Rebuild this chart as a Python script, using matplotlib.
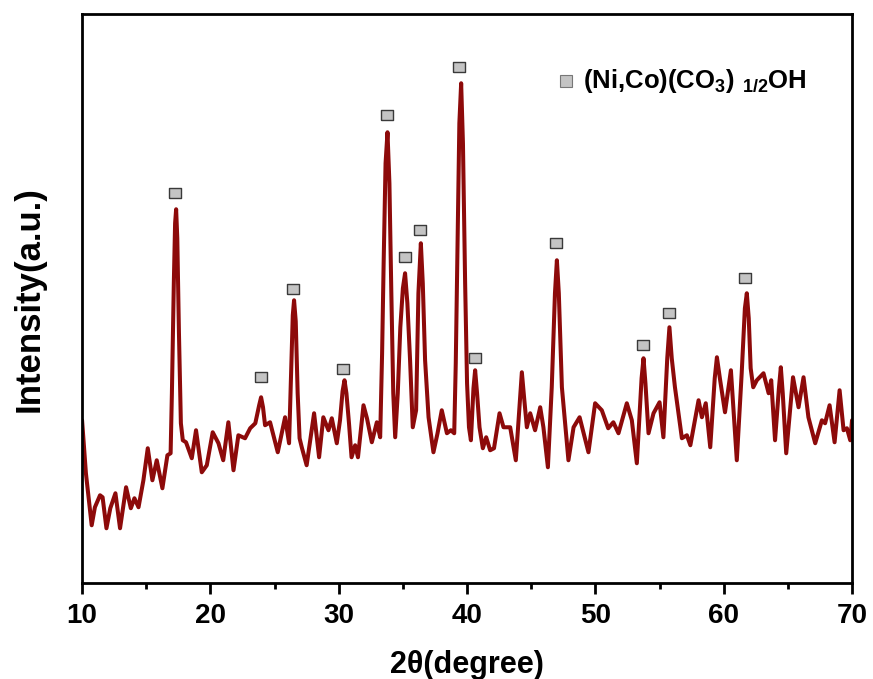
import numpy as np
import matplotlib
matplotlib.use("Agg")
import matplotlib.pyplot as plt

plt.rcParams['font.family'] = ['Liberation Sans', 'DejaVu Sans']
plt.rcParams['font.weight'] = 'bold'
plt.rcParams['mathtext.fontset'] = 'custom'
plt.rcParams['mathtext.rm'] = 'Liberation Sans:bold'
plt.rcParams['mathtext.it'] = 'Liberation Sans:bold'
plt.rcParams['mathtext.bf'] = 'Liberation Sans:bold'

# XRD pattern (2theta in degrees, intensity in a.u.)
two_theta = [10.0, 10.3, 10.75, 11.0, 11.4, 11.6, 11.9, 12.2, 12.6, 12.96,
             13.43, 13.8, 14.08, 14.4, 14.78, 15.12, 15.48, 15.82, 16.26, 16.65,
             16.9, 17.0, 17.15, 17.25, 17.33, 17.42, 17.55, 17.7, 17.85, 18.1,
             18.55, 18.88, 19.33, 19.72, 20.18, 20.63, 21.0, 21.4, 21.8, 22.18,
             22.7, 23.1, 23.5, 23.8, 23.95, 24.1, 24.26, 24.65, 25.25, 25.82,
             26.13, 26.3, 26.42, 26.52, 26.65, 26.8, 26.95, 27.12, 27.5, 28.08,
             28.47, 28.8, 29.2, 29.46, 29.85, 30.1, 30.3, 30.45, 30.6, 30.8,
             31.0, 31.28, 31.5, 31.93, 32.2, 32.58, 32.97, 33.23, 33.38, 33.5,
             33.65, 33.8, 33.95, 34.1, 34.25, 34.4, 34.6, 34.8, 35.0, 35.17,
             35.35, 35.56, 35.77, 36.03, 36.21, 36.4, 36.55, 36.73, 37.0, 37.38,
             37.7, 38.03, 38.43, 38.74, 39.0, 39.12, 39.25, 39.4, 39.54, 39.68,
             39.85, 40.0, 40.15, 40.3, 40.5, 40.63, 40.78, 40.97, 41.23, 41.49,
             41.8, 42.1, 42.53, 42.84, 43.36, 43.8, 44.1, 44.27, 44.45, 44.66,
             44.92, 45.3, 45.7, 45.95, 46.3, 46.6, 46.85, 47.0, 47.15, 47.39,
             47.9, 48.3, 48.77, 49.46, 49.98, 50.5, 51.0, 51.4, 51.8, 52.45,
             52.84, 53.23, 53.6, 53.75, 53.9, 54.14, 54.53, 55.0, 55.3, 55.6,
             55.77, 55.95, 56.2, 56.74, 57.13, 57.4, 58.04, 58.3, 58.6, 58.95,
             59.3, 59.47, 59.7, 60.1, 60.56, 61.02, 61.4, 61.65, 61.8, 61.95,
             62.1, 62.3, 62.58, 63.1, 63.5, 63.7, 64.0, 64.3, 64.45, 64.6,
             64.87, 65.4, 65.83, 66.22, 66.6, 67.13, 67.65, 67.9, 68.25, 68.64,
             69.03, 69.34, 69.6, 69.86, 70.0]
intensity = [163, 110, 58, 76, 88, 86, 55, 75, 90, 55,
             96, 75, 85, 76, 103, 135, 103, 123, 95, 128,
             130, 190, 300, 360, 374, 345, 250, 160, 143, 141,
             125, 153, 111, 118, 151, 140, 123, 161, 113, 148,
             145, 155, 160, 178, 186, 176, 158, 161, 131, 166,
             140, 215, 268, 283, 262, 190, 145, 136, 118, 170,
             126, 166, 153, 165, 140, 163, 192, 203, 190, 160,
             126, 138, 126, 178, 165, 141, 161, 146, 230, 320,
             420, 451, 400, 290, 190, 146, 190, 256, 295, 310,
             280, 223, 156, 173, 290, 340, 300, 223, 166, 131,
             150, 173, 150, 153, 150, 220, 330, 460, 500, 440,
             300, 200, 156, 143, 195, 213, 190, 156, 135, 146,
             133, 135, 170, 156, 156, 123, 180, 211, 185, 156,
             170, 153, 176, 156, 116, 196, 290, 323, 290, 196,
             123, 156, 166, 131, 180, 173, 155, 161, 150, 180,
             163, 120, 205, 225, 200, 150, 170, 181, 146, 225,
             256, 225, 196, 145, 148, 138, 183, 166, 180, 136,
             205, 226, 205, 171, 213, 123, 210, 275, 290, 265,
             215, 196, 203, 210, 190, 203, 143, 195, 216, 190,
             130, 206, 176, 206, 166, 140, 163, 160, 178, 141,
             193, 153, 155, 143, 163]

# phase markers above the indexed peaks
mark_theta = [17.25, 23.95, 26.45, 30.3, 33.75, 35.15, 36.3, 39.35, 40.6,
              46.95, 53.7, 55.7, 61.65]
mark_y = [390, 206, 294, 214, 468, 326, 353, 516, 225, 340, 238, 270, 305]

rect = [(-1.3, -1), (1.3, -1), (1.3, 1), (-1.3, 1), (-1.3, -1)]

fig = plt.figure(figsize=(8.73, 6.79), dpi=100)
ax = fig.add_axes([0.094, 0.141, 0.882, 0.838])

ax.plot(two_theta, intensity, color='#8d0a0a', lw=2.9,
        solid_joinstyle='round', solid_capstyle='round')
ax.plot(mark_theta, mark_y, ls='none', marker=rect, ms=9,
        mfc='#c4c4c4', mec='#3a3a3a', mew=1.0)

# legend entry
ax.plot([0.629], [0.882], transform=ax.transAxes, ls='none', marker='s', ms=8,
        mfc='#c4c4c4', mec='#777777', mew=0.8, clip_on=False)
ax.text(0.650, 0.882, r'(Ni,Co)(CO$_{3}$)$\ _{1/2}$OH', transform=ax.transAxes,
        fontsize=18.5, fontweight='bold', va='center', ha='left')

ax.set_xlim(10, 70)
ax.set_ylim(0, 569)
ax.set_xticks([10, 20, 30, 40, 50, 60, 70])
ax.set_xticks(np.arange(15, 70, 10), minor=True)
ax.set_yticks([])
ax.tick_params(axis='x', which='major', length=8, width=2, labelsize=20, pad=6)
ax.tick_params(axis='x', which='minor', length=4.5, width=2)
for lab in ax.get_xticklabels():
    lab.set_fontweight('bold')
for sp in ax.spines.values():
    sp.set_linewidth(2)

ax.set_xlabel('2θ(degree)', fontsize=22, fontweight='bold', labelpad=15)
ax.set_ylabel('Intensity(a.u.)', fontsize=25, fontweight='bold', labelpad=26)

fig.savefig('out.png', dpi=100)
